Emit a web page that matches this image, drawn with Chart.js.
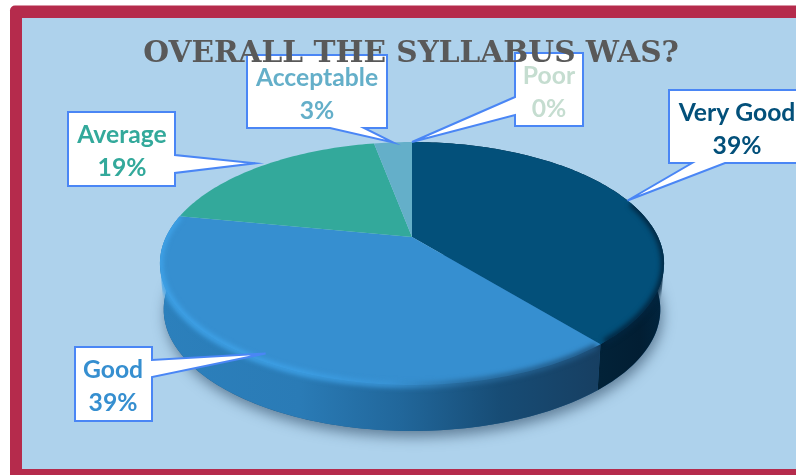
<!DOCTYPE html>
<html>
<head>
<meta charset="utf-8">
<style>
html,body{margin:0;padding:0;background:#fff;overflow:hidden}
canvas{display:block}
</style>
<script src="https://cdn.jsdelivr.net/npm/chart.js@4/dist/chart.umd.min.js"></script>
</head>
<body>
<canvas id="c" width="796" height="475"></canvas>
<script>
const categories = ["Very Good", "Good", "Average", "Acceptable", "Poor"];
const percentages = [39, 39, 19, 3, 0];
const titleText = "OVERALL THE SYLLABUS WAS?";
const sliceColors = ["#03507A", "#368FD0", "#33A99B", "#64AFC9", "#C5DDD0"];

// Presentation only: callout box [x, y, w, h], tail base on the box edge, label centre and tip reach
const boxRects = [[669,90,140,73],[75,347,77,74],[68,112,107,74],[247,55,140,73],[515,53,68,73]];
const tailBases = [[[692,163],[725,163]],[[152,360],[152,377]],[[175,155],[175,173]],[[330,128],[364,128]],[[515,97],[515,115]]];
const textCentres = [737,113,122,317,549];
const tipReach = [1,0.95,1.04,1,1];

// Perspective of the tilted disc
const apexX = 412, apexY = 237, discA = 246, discB = 115.7, discP = 0.218, depth = 46, lowerScale = 0.985;
function rim(theta, lower, reach) {
  const r = reach === undefined ? 1 : reach;
  const u = Math.sin(theta), v = -Math.cos(theta), d = 1 - discP * v;
  const s = lower ? lowerScale : 1;
  return [apexX + r * s * discA * u / d, apexY + r * discB * v / d + (lower ? depth : 0)];
}
function polyline(ctx, a, b, lower, first) {
  const n = Math.max(2, Math.ceil(Math.abs(b - a) / 0.02));
  for (let i = 0; i <= n; i++) {
    const p = rim(a + (b - a) * i / n, lower);
    if (first && i === 0) ctx.moveTo(p[0], p[1]); else ctx.lineTo(p[0], p[1]);
  }
}
const rad = d => d * Math.PI / 180;
function silhouette(ctx) {
  ctx.beginPath();
  polyline(ctx, rad(257.4 - 360), rad(102.6), false, true);
  polyline(ctx, rad(102.6), rad(257.4), true, false);
  ctx.closePath();
}
function hGrad(ctx, stops) {
  const g = ctx.createLinearGradient(160, 0, 665, 0);
  stops.forEach(s => g.addColorStop((s[0] - 160) / 505, s[1]));
  return g;
}

const disc3d = {
  id: "disc3d",
  beforeDatasetDraw() { return false; },
  beforeDraw(chart) {
    const ctx = chart.ctx;
    const W = chart.width, H = chart.height;
    const arcs = chart.getDatasetMeta(0).data;
    const th = a => a + Math.PI / 2;

    // frame
    ctx.save();
    ctx.fillStyle = "#B52B4C";
    ctx.beginPath(); ctx.roundRect(10, 5.5, W, H, 5); ctx.fill();
    ctx.fillStyle = "#AED2EC";
    ctx.fillRect(22, 18, W - 22, 451);
    ctx.restore();

    // soft shadow under the disc: cast only by the lower half
    ctx.save();
    ctx.shadowColor = "rgba(35,60,85,0.55)"; ctx.shadowBlur = 13; ctx.shadowOffsetY = 6; ctx.shadowOffsetX = 2;
    ctx.fillStyle = "#1E5A8A";
    ctx.beginPath();
    polyline(ctx, rad(75), rad(285), true, true);
    ctx.closePath();
    ctx.fill();
    ctx.restore();

    // side wall
    const wallStops = [
      [[600,"#022238"],[640,"#021E33"],[665,"#01253F"]],
      [[160,"#2C80BC"],[300,"#2A7BB6"],[400,"#21679B"],[500,"#174C75"],[600,"#173F62"]]
    ];
    [0,1].forEach(i => {
      const a = th(arcs[i].startAngle), b = th(arcs[i].endAngle);
      ctx.beginPath();
      polyline(ctx, a, b, false, true);
      polyline(ctx, b, a, true, false);
      ctx.closePath();
      ctx.fillStyle = hGrad(ctx, wallStops[i]);
      ctx.fill();
    });

    // top faces
    arcs.forEach((arc, i) => {
      if (arc.endAngle - arc.startAngle <= 0) return;
      ctx.beginPath();
      ctx.moveTo(apexX, apexY);
      polyline(ctx, th(arc.startAngle), th(arc.endAngle), false, false);
      ctx.closePath();
      ctx.fillStyle = sliceColors[i];
      ctx.fill();
    });

    // bevel along the front rim
    ctx.save();
    silhouette(ctx); ctx.clip();
    ctx.filter = "blur(2.5px)";
    ctx.lineWidth = 6;
    ctx.lineCap = "butt";
    ctx.beginPath();
    polyline(ctx, th(arcs[1].startAngle) + 0.02, th(arcs[1].endAngle), false, true);
    ctx.strokeStyle = hGrad(ctx, [[160,"#3FA3E9"],[300,"#3DA0E6"],[390,"#3994D6"],[470,"#27699B"],[600,"#1F5480"]]);
    ctx.stroke();
    ctx.beginPath();
    polyline(ctx, rad(72), th(arcs[0].endAngle) - 0.02, false, true);
    ctx.strokeStyle = "#02253F";
    ctx.stroke();
    ctx.restore();

    // callouts
    arcs.forEach((arc, i) => {
      const r = boxRects[i], t = tailBases[i];
      const mid = (th(arc.startAngle) + th(arc.endAngle)) / 2;
      const tip = rim(mid, false, tipReach[i]);
      const v = [[r[0],r[1]],[r[0]+r[2],r[1]],[r[0]+r[2],r[1]+r[3]],[r[0],r[1]+r[3]]];
      ctx.beginPath();
      ctx.moveTo(v[0][0], v[0][1]);
      if (i === 4) {
        ctx.lineTo(v[1][0], v[1][1]); ctx.lineTo(v[2][0], v[2][1]); ctx.lineTo(v[3][0], v[3][1]);
        ctx.lineTo(t[1][0], t[1][1]); ctx.lineTo(tip[0], tip[1]); ctx.lineTo(t[0][0], t[0][1]);
      } else if (i === 1 || i === 2) {
        ctx.lineTo(v[1][0], v[1][1]); ctx.lineTo(t[0][0], t[0][1]); ctx.lineTo(tip[0], tip[1]); ctx.lineTo(t[1][0], t[1][1]);
        ctx.lineTo(v[2][0], v[2][1]); ctx.lineTo(v[3][0], v[3][1]);
      } else {
        ctx.lineTo(v[1][0], v[1][1]); ctx.lineTo(v[2][0], v[2][1]);
        ctx.lineTo(t[1][0], t[1][1]); ctx.lineTo(tip[0], tip[1]); ctx.lineTo(t[0][0], t[0][1]);
        ctx.lineTo(v[3][0], v[3][1]);
      }
      ctx.closePath();
      ctx.fillStyle = "#FFFFFF"; ctx.fill();
      ctx.strokeStyle = "#4A86F5"; ctx.lineWidth = 2; ctx.lineJoin = "miter"; ctx.stroke();

      ctx.fillStyle = sliceColors[i];
      ctx.font = "bold 24.7px Lato";
      ctx.textAlign = "center"; ctx.textBaseline = "middle";
      ctx.fillText(categories[i], textCentres[i], r[1] + 23);
      ctx.fillText(percentages[i] + "%", textCentres[i], r[1] + 56);
    });
  }
};

new Chart(document.getElementById("c"), {
  type: "pie",
  data: { labels: categories, datasets: [{ data: percentages, backgroundColor: sliceColors, borderWidth: 0 }] },
  plugins: [disc3d],
  options: {
    responsive: false,
    animation: false,
    layout: { padding: { left: 26 } },
    plugins: {
      legend: { display: false },
      tooltip: { enabled: false },
      title: {
        display: true,
        text: titleText,
        color: "#595959",
        font: { family: "'DejaVu Serif'", size: 29.6, weight: "bold" },
        padding: { top: 37, bottom: 6 }
      }
    }
  }
});
</script>
</body>
</html>
